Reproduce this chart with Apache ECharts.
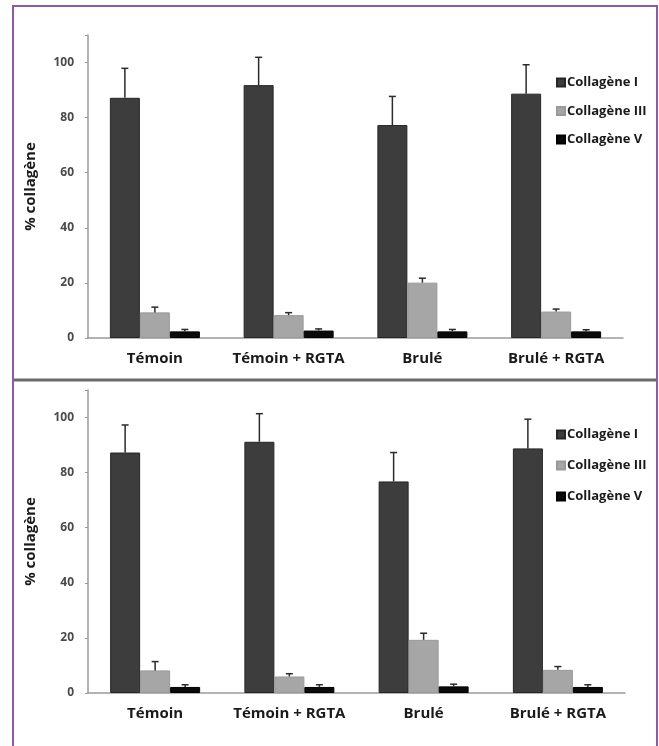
<!DOCTYPE html>
<html>
<head>
<meta charset="UTF-8">
<title>Collagène</title>
<script src="https://cdn.jsdelivr.net/npm/echarts@6.0.0/dist/echarts.min.js"></script>
<style>
  html, body { margin: 0; padding: 0; background: #fff; }
  #chart { width: 659px; height: 746px; }
</style>
</head>
<body>
<div id="chart"></div>
<script>
// categories and series values
var categories = ['Témoin', 'Témoin + RGTA', 'Brulé', 'Brulé + RGTA'];
var seriesNames = ['Collagène I', 'Collagène III', 'Collagène V'];
var yTicks = [0, 20, 40, 60, 80, 100];

// top panel
var topCol1 = [87.2, 91.8, 77.3, 88.7];
var topCol1Err = [10.7, 10.1, 10.4, 10.5];
var topCol3 = [9.3, 8.3, 20.1, 9.6];
var topCol3Err = [1.9, 0.9, 1.6, 0.9];
var topCol5 = [2.4, 2.7, 2.4, 2.4];
var topCol5Err = [0.7, 0.6, 0.7, 0.6];

// bottom panel
var botCol1 = [87.3, 91.2, 76.8, 88.8];
var botCol1Err = [10.0, 10.2, 10.5, 10.6];
var botCol3 = [8.2, 6.0, 19.3, 8.4];
var botCol3Err = [3.2, 1.0, 2.4, 1.2];
var botCol5 = [2.2, 2.2, 2.4, 2.2];
var botCol5Err = [0.8, 0.8, 0.8, 0.8];

var colors = ['#3d3d3d', '#a6a6a6', '#0a0a0a'];
var borders = ['#262626', '#999999', '#000000'];
var BAR_W = 30;
var FONT = '"Open Sans", Lato, sans-serif';

var myChart = echarts.init(document.getElementById('chart'));

function barSeries(k, vals, idx) {
  return {
    name: seriesNames[k],
    type: 'bar',
    xAxisIndex: idx,
    yAxisIndex: idx,
    barWidth: BAR_W,
    barGap: '0%',
    itemStyle: { color: colors[k], borderColor: borders[k], borderWidth: 1 },
    data: vals
  };
}

function errSeries(k, vals, errs, idx) {
  var d = [];
  for (var i = 0; i < vals.length; i++) {
    d.push([i, vals[i], vals[i] + errs[i]]);
  }
  return {
    type: 'custom',
    xAxisIndex: idx,
    yAxisIndex: idx,
    silent: true,
    z: 5,
    renderItem: function (params, api) {
      var base = api.coord([api.value(0), api.value(1)]);
      var top = api.coord([api.value(0), api.value(2)]);
      var x = base[0] + (k - 1) * BAR_W;
      var style = { stroke: '#2b2b2b', lineWidth: 1.5 };
      return {
        type: 'group',
        children: [
          { type: 'line', shape: { x1: x, y1: base[1], x2: x, y2: top[1] }, style: style },
          { type: 'line', shape: { x1: x - 3.5, y1: top[1], x2: x + 3.5, y2: top[1] }, style: style }
        ]
      };
    },
    data: d
  };
}

function xAxisCfg(idx) {
  return {
    type: 'category',
    gridIndex: idx,
    data: categories,
    axisLine: { lineStyle: { color: '#9a9a9a', width: 1.5 } },
    axisTick: { show: false },
    axisLabel: { interval: 0, fontFamily: FONT, fontWeight: 'bold', fontSize: 15, color: '#1a1a1a', margin: 13 }
  };
}

function yAxisCfg(idx) {
  return {
    type: 'value',
    gridIndex: idx,
    min: 0,
    max: 110,
    interval: 20,
    name: '% collagène',
    nameLocation: 'middle',
    nameRotate: 90,
    nameGap: 50,
    nameTextStyle: { fontFamily: FONT, fontWeight: 'bold', fontSize: 15, color: '#1a1a1a' },
    axisLine: { show: true, lineStyle: { color: '#9a9a9a', width: 1.5 } },
    axisTick: { show: true, length: 3, lineStyle: { color: '#9a9a9a' } },
    splitLine: { show: false },
    axisLabel: {
      fontFamily: FONT, fontWeight: 'bold', fontSize: 12, color: '#4a4a4a', margin: 14,
      formatter: function (v) { return yTicks.indexOf(v) >= 0 ? String(v) : ''; }
    }
  };
}

function legendCfg(top, gap) {
  return {
    orient: 'vertical',
    left: 551,
    top: top,
    itemWidth: 8,
    itemHeight: 8,
    itemGap: gap,
    icon: 'rect',
    selectedMode: false,
    textStyle: { fontFamily: FONT, fontWeight: 'bold', fontSize: 13, color: '#1a1a1a', padding: [0, 0, 0, -3] },
    data: seriesNames
  };
}

var option = {
  backgroundColor: '#fff',
  animation: false,
  graphic: [
    { type: 'rect', shape: { x: 13, y: 6, width: 644, height: 760 }, style: { fill: 'none', stroke: '#8d5ba6', lineWidth: 2 } },
    { type: 'line', shape: { x1: 14, y1: 380, x2: 656, y2: 380 }, style: { stroke: '#6a6a6a', lineWidth: 3 } }
  ],
  grid: [
    { left: 88, right: 36, top: 35, bottom: 408 },
    { left: 88, right: 34, top: 390, bottom: 53 }
  ],
  legend: [legendCfg(71, 15.5), legendCfg(423, 18)],
  xAxis: [xAxisCfg(0), xAxisCfg(1)],
  yAxis: [yAxisCfg(0), yAxisCfg(1)],
  series: [
    barSeries(0, topCol1, 0), barSeries(1, topCol3, 0), barSeries(2, topCol5, 0),
    errSeries(0, topCol1, topCol1Err, 0), errSeries(1, topCol3, topCol3Err, 0), errSeries(2, topCol5, topCol5Err, 0),
    barSeries(0, botCol1, 1), barSeries(1, botCol3, 1), barSeries(2, botCol5, 1),
    errSeries(0, botCol1, botCol1Err, 1), errSeries(1, botCol3, botCol3Err, 1), errSeries(2, botCol5, botCol5Err, 1)
  ]
};
myChart.setOption(option);
</script>
</body>
</html>
